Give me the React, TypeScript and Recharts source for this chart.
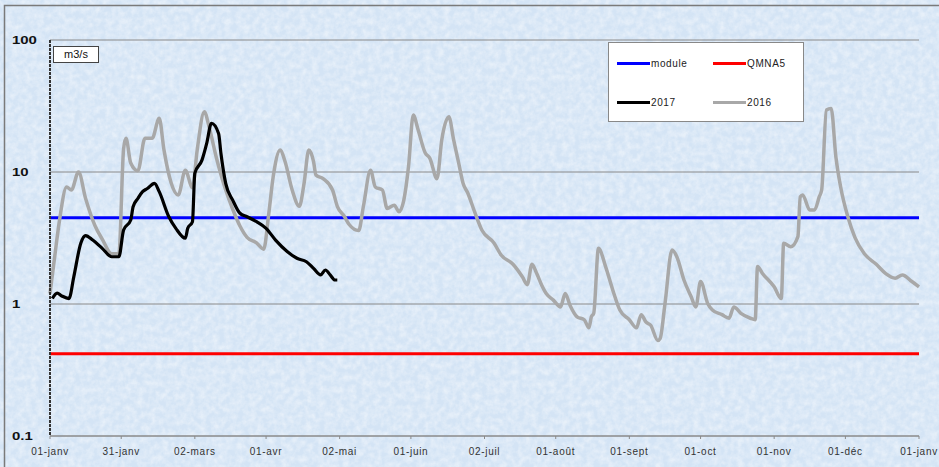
import { LineChart, Line, XAxis, YAxis, CartesianGrid, ReferenceLine } from "recharts";

// axis ticks
const dayTicks = [0, 30, 61, 91, 122, 152, 183, 213, 244, 274, 305, 335, 366];
const dayLabels = [
  "01-janv", "31-janv", "02-mars", "01-avr", "02-mai", "01-juin", "02-juil",
  "01-août", "01-sept", "01-oct", "01-nov", "01-déc", "01-janv",
];
const flowTicks = [0.1, 1, 10, 100];

// débits 2016 (jour de l'année, m3/s)
const days2016 = [
  0, 2, 4, 7, 9, 12, 15, 19, 22, 26, 29, 31, 32, 34, 37, 40, 43, 46, 48, 51,
  54, 57, 60, 62, 65, 67, 70, 74, 77, 80, 83, 87, 90, 92, 94, 97, 99, 102, 105, 107,
  109, 111, 112, 115, 119, 121, 124, 126, 130, 132, 135, 137, 140, 142, 145, 147, 149, 151, 153, 155,
  158, 160, 163, 165, 168, 170, 172, 174, 176, 179, 182, 187, 190, 195, 199, 201, 203, 205, 207, 209,
  212, 215, 217, 219, 222, 225, 227, 228, 229, 231, 234, 237, 240, 244, 247, 249, 251, 253, 256, 257,
  259, 262, 264, 267, 270, 272, 274, 277, 279, 283, 286, 288, 291, 295, 297, 298, 300, 305, 308, 309,
  312, 315, 316, 317, 320, 322, 324, 325, 327, 329, 331, 333, 336, 339, 343, 348, 352, 356, 359, 363,
  366,
];
const flow2016 = [
  1.2, 2.3, 4.3, 7.7, 7.3, 10, 6.3, 3.9, 3.1, 2.4, 2.4, 15, 18, 11.7, 10.2, 18, 18, 25.5, 14.7, 8.3,
  6.7, 10.3, 7.6, 14.7, 28.6, 22, 13, 7.3, 5.2, 3.9, 3.2, 2.9, 2.6, 4.6, 9.2, 14.7, 12, 7.3, 5.5, 8.2,
  14.7, 12, 9.5, 8.9, 7.3, 5.5, 4.6, 4.0, 3.6, 5.5, 10.3, 7.7, 7.3, 5.3, 5.6, 5.0, 6.1, 11, 27, 21,
  14, 12.7, 8.9, 17.5, 26.2, 17.5, 12, 8.2, 6.9, 4.9, 3.6, 2.9, 2.35, 2.0, 1.6, 1.4, 2.0, 1.7, 1.4, 1.2,
  1.07, 0.95, 1.2, 0.98, 0.8, 0.76, 0.66, 0.8, 0.85, 2.64, 1.92, 1.28, 0.9, 0.76, 0.66, 0.83, 0.73, 0.69, 0.53, 0.55,
  1.0, 2.56, 2.28, 1.52, 1.14, 0.95, 1.48, 1.01, 0.9, 0.83, 0.78, 0.95, 0.85, 0.78, 0.76, 1.92, 1.71, 1.35, 1.1, 2.88,
  2.72, 3.24, 6.5, 6.7, 5.15, 5.15, 6.5, 7.3, 29.5, 30.3, 13, 7.7, 4.6, 3.2, 2.4, 2.0, 1.7, 1.57, 1.66, 1.48,
  1.35,
];

// débits 2017
const days2017 = [
  1, 3, 5, 8, 10, 13, 15, 18, 22, 26, 29, 31, 34, 35, 37, 39, 41, 44, 46, 50,
  53, 57, 58, 60, 61, 64, 66, 68, 71, 72, 74, 77, 80, 83, 87, 91, 95, 100, 104, 108,
  111, 114, 116, 118, 120, 121,
];
const flow2017 = [
  1.1, 1.21, 1.15, 1.1, 1.6, 2.9, 3.3, 3.05, 2.64, 2.28, 2.28, 3.64, 4.33, 5.46, 6.3, 7.1, 7.5, 8.2, 7.1, 4.6,
  3.74, 3.15, 3.74, 4.2, 9.8, 12.3, 16.5, 23.4, 19.6, 13.8, 8.2, 6.1, 4.87, 4.58, 4.2, 3.74, 3.05, 2.49, 2.22, 2.09,
  1.86, 1.66, 1.81, 1.66, 1.52, 1.52,
];

const moduleFlow = 4.5;
const qmna5Flow = 0.42;

const data2016 = days2016.map((day, i) => ({ day, q: flow2016[i] }));
const data2017 = days2017.map((day, i) => ({ day, q: flow2017[i] }));

const font = "Arial, 'Liberation Sans', sans-serif";

// eslint-disable-next-line @typescript-eslint/no-explicit-any
const YTick = ({ y, payload }: any) => (
  <text
    transform={`translate(12 ${y + 4}) scale(1.3 1)`}
    fontSize={11.5}
    fontWeight="bold"
    fontFamily={font}
    fill="#111"
  >
    {String(payload.value)}
  </text>
);

// eslint-disable-next-line @typescript-eslint/no-explicit-any
const XTick = ({ x, payload }: any) => (
  <text
    x={x}
    y={455}
    textAnchor="middle"
    fontSize={10}
    letterSpacing={0.7}
    fontFamily={font}
    fill="#333"
  >
    {dayLabels[dayTicks.indexOf(payload.value)]}
  </text>
);

const legendItems = [
  { name: "module", color: "#0000ff", left: 8, top: 20 },
  { name: "QMNA5", color: "#ff0000", left: 104, top: 20 },
  { name: "2017", color: "#000000", left: 8, top: 59 },
  { name: "2016", color: "#a8a8a8", left: 104, top: 59 },
];

export default function App() {
  return (
    <div
      style={{
        position: "absolute",
        left: 0,
        top: 0,
        width: 939,
        height: 467,
        overflow: "hidden",
        background: "#d4e4f5",
        fontFamily: font,
      }}
    >
      <svg width={939} height={467} style={{ position: "absolute", left: 0, top: 0 }}>
        <defs>
          <filter id="paper" x="0" y="0" width="100%" height="100%">
            <feTurbulence type="fractalNoise" baseFrequency="0.16" numOctaves={3} seed={7} />
            <feColorMatrix
              type="matrix"
              values="0 0 0 0 1  0 0 0 0 1  0 0 0 0 1  0 0 0 -1.8 1.25"
            />
          </filter>
        </defs>
        <rect width={939} height={467} filter="url(#paper)" opacity={0.45} />
        <path d="M4.5 467 V5.5 H939" fill="none" stroke="#7a7a7a" strokeWidth={1.5} />
      </svg>

      <div style={{ position: "absolute", left: 0, top: 0 }}>
        <LineChart width={939} height={467} margin={{ top: 40, right: 20, bottom: 11, left: 0 }}>
          <CartesianGrid vertical={false} stroke="#8a8a8a" strokeWidth={1} />
          <XAxis
            type="number"
            dataKey="day"
            domain={[0, 366]}
            ticks={dayTicks}
            tick={<XTick />}
            tickSize={3}
            height={20}
            stroke="#8a8a8a"
            interval={0}
          />
          <YAxis
            type="number"
            scale="log"
            domain={[0.1, 100]}
            ticks={flowTicks}
            allowDataOverflow
            tick={<YTick />}
            tickLine={false}
            width={50}
            axisLine={{ stroke: "#333", strokeWidth: 2, strokeDasharray: "3 1" }}
            interval={0}
          />
          <YAxis
            yAxisId="right"
            orientation="right"
            type="number"
            scale="log"
            domain={[0.1, 100]}
            ticks={flowTicks}
            tick={false}
            tickLine={false}
            width={0}
            axisLine={{ stroke: "#888", strokeWidth: 2, strokeDasharray: "2 1" }}
          />
          <ReferenceLine y={moduleFlow} stroke="#0000ff" strokeWidth={3} />
          <ReferenceLine y={qmna5Flow} stroke="#ff0000" strokeWidth={3} />
          <Line
            data={data2016}
            dataKey="q"
            name="2016"
            type="monotone"
            stroke="#a8a8a8"
            strokeWidth={3.5}
            dot={false}
            isAnimationActive={false}
          />
          <Line
            data={data2017}
            dataKey="q"
            name="2017"
            type="monotone"
            stroke="#000000"
            strokeWidth={3.2}
            dot={false}
            isAnimationActive={false}
          />
        </LineChart>
      </div>

      <div
        style={{
          position: "absolute",
          left: 53,
          top: 46,
          width: 44,
          height: 15,
          background: "#fff",
          border: "1px solid #444",
          fontSize: 11,
          lineHeight: "15px",
          textAlign: "center",
          color: "#111",
        }}
      >
        m3/s
      </div>

      <div
        style={{
          position: "absolute",
          left: 608,
          top: 42,
          width: 194,
          height: 78,
          background: "#fff",
          border: "1px solid #888",
        }}
      >
        {legendItems.map((it) => (
          <div
            key={it.name}
            style={{
              position: "absolute",
              left: it.left,
              top: it.top - 7,
              display: "flex",
              alignItems: "center",
              fontSize: 10,
              letterSpacing: 0.6,
              color: "#222",
              height: 14,
            }}
          >
            <span style={{ display: "inline-block", width: 33, height: 3, background: it.color }} />
            <span style={{ marginLeft: 1 }}>{it.name}</span>
          </div>
        ))}
      </div>
    </div>
  );
}
